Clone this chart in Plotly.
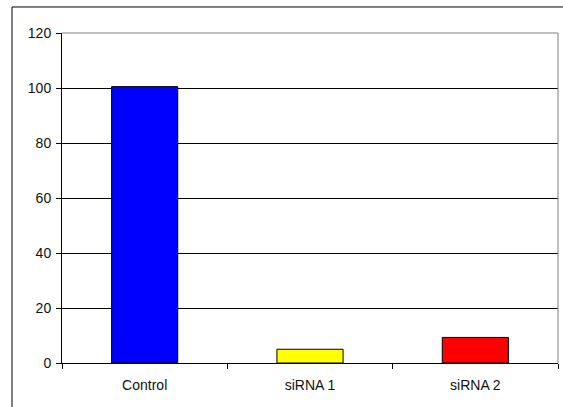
import plotly.graph_objects as go

categories = ["Control", "siRNA 1", "siRNA 2"]
values = [100.5, 5.0, 9.3]
colors = ["#0000FF", "#FFFF00", "#FF0000"]
y_ticks = [0, 20, 40, 60, 80, 100, 120]

fig = go.Figure()
fig.add_trace(go.Bar(
    x=categories, y=values, width=0.4,
    marker=dict(color=colors, line=dict(color="#000000", width=1)),
))

font = dict(family="Liberation Sans, Arial, sans-serif", size=14, color="#111111")

fig.update_layout(
    width=563, height=407,
    margin=dict(l=62, r=5, t=33, b=44),
    paper_bgcolor="white", plot_bgcolor="white",
    showlegend=False,
    font=font,
    xaxis=dict(
        range=[-0.5, 2.5], showgrid=False, zeroline=False,
        showline=True, linecolor="#000000", linewidth=1,
        ticks="outside", tickson="boundaries", ticklen=5, tickcolor="#000000",
        tickfont=font, ticklabelstandoff=9,
    ),
    yaxis=dict(
        range=[0, 120], tickvals=y_ticks, showgrid=True, gridcolor="#000000", gridwidth=1,
        zeroline=False, showline=True, linecolor="#000000", linewidth=1,
        ticks="outside", ticklen=5, tickcolor="#000000", tickfont=font,
        ticklabelstandoff=2,
    ),
    shapes=[
        # outer chart border
        dict(type="rect", xref="paper", yref="paper", x0=-0.1008, x1=1.2, y0=-0.3, y1=1.0788,
             line=dict(color="#000000", width=1), layer="below"),
        # plot area border top and right
        dict(type="line", xref="paper", yref="paper", x0=0, x1=1, y0=1, y1=1,
             line=dict(color="#808080", width=1)),
        dict(type="line", xref="paper", yref="paper", x0=1, x1=1, y0=0, y1=1,
             line=dict(color="#808080", width=1)),
    ],
)

fig.write_html("out.html")
